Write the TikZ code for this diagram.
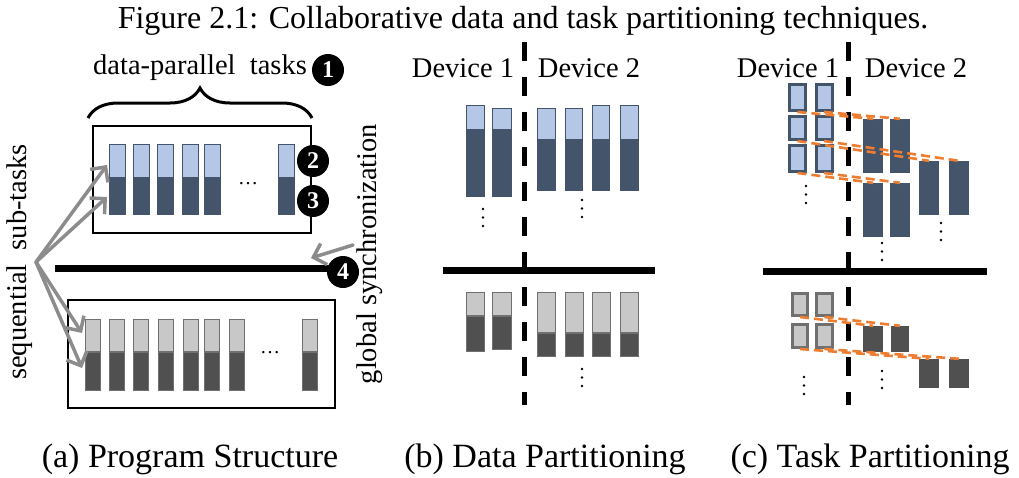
\documentclass[tikz,border=0pt]{standalone}
\usepackage{fontspec}
\setmainfont{Liberation Serif}
\usetikzlibrary{arrows.meta,decorations.pathreplacing}

\definecolor{taskblue}{HTML}{B4C7E7}
\definecolor{taskslate}{HTML}{44546A}
\definecolor{tasklgray}{HTML}{C8C8C8}
\definecolor{taskdgray}{HTML}{505050}
\definecolor{taskedge}{HTML}{707070}
\definecolor{pointergray}{HTML}{8C8C8C}
\definecolor{linkorange}{HTML}{ED7D31}

% split task bar: x-left, top, width, split, bottom, light fill, dark fill, edge colour
\newcommand{\splitbar}[8]{%
  \fill[#7] (#1,#4) rectangle (#1+#3,#5);
  \draw[#8, line width=1.4pt] (#1+0.7,#2+0.7) rectangle (#1+#3-0.7,#5-0.7);
  \filldraw[fill=#6, draw=#8, line width=1.4pt] (#1+0.7,#2+0.7) rectangle (#1+#3-0.7,#4);
}
% three stacked dots
\newcommand{\stackdots}[2]{%
  \foreach \k in {0,1,2} \fill (#1,#2+8.5*\k) circle (1.4pt);
}

\begin{document}
\begin{tikzpicture}[x=1pt,y=-1pt,
  lbl/.style={font=\fontsize{28.5}{30}\selectfont, inner sep=0pt},
  caption/.style={font=\fontsize{34}{38}\selectfont, inner sep=0pt},
  heading/.style={font=\fontsize{32}{36}\selectfont, inner sep=0pt},
  ellip/.style={font=\fontsize{20}{20}\selectfont, inner sep=0pt},
  badge/.style={circle, fill=black, text=white, inner sep=0pt, minimum size=32pt,
    font=\fontsize{24}{24}\selectfont\bfseries},
  frame/.style={draw=black, line width=2.5pt},
  syncline/.style={line width=7pt},
  devsplit/.style={line width=5pt, dash pattern=on 19pt off 16pt},
  pointer/.style={draw=pointergray, line width=3.5pt, line cap=round,
    -{Straight Barb[length=11pt,width=22pt]}},
  link/.style={draw=linkorange, line width=2.6pt, dash pattern=on 9pt off 5pt},
  bsq/.style={draw=taskslate, fill=taskblue, line width=3pt, inner sep=0pt},
  gsq/.style={draw=taskedge, fill=tasklgray, line width=3pt, inner sep=0pt},
  bblk/.style={fill=taskslate, inner sep=0pt},
  gblk/.style={fill=taskdgray, inner sep=0pt},
]
\useasboundingbox (0,0) rectangle (1019,477);

% heading and sub-figure captions
\node[heading] (title) at (523,21) {Figure 2.1: Collaborative data and task partitioning techniques.};
\node[caption] (capA) at (190,459) {(a) Program Structure};
\node[caption] (capB) at (545,459) {(b) Data Partitioning};
\node[caption] (capC) at (870,459) {(c) Task Partitioning};

%% ---------------- (a) program structure ----------------
\node[lbl] (dpt) at (200,68) {data-parallel\ \ tasks};
\node[badge] (n1) at (328,70) {1};
\draw[line width=3pt, decorate, decoration={brace, amplitude=30pt}] (88,118) -- (312,118);

\draw[frame] (93,126) rectangle (311,233);
\foreach \x in {109,133,157,182,204,278}
  \splitbar{\x}{144}{17}{178}{215}{taskblue}{taskslate}{taskslate};
\node[ellip] (ellA) at (248,184) {\dots};
\node[badge] (n2) at (313,161) {2};
\node[badge] (n3) at (313,201) {3};

\coordinate (syncAs) at (55,268);
\coordinate (syncAe) at (335,268);
\draw[syncline] (syncAs) -- (syncAe);
\node[badge] (n4) at (343,272) {4};

\draw[frame] (68,300) rectangle (335,408);
\foreach \x in {85,109,133,158,183,204,229,302}
  \splitbar{\x}{319}{16}{352}{391}{tasklgray}{taskdgray}{taskedge};
\node[ellip] (ellB) at (270,353) {\dots};

\node[lbl, rotate=90] (seq) at (20,262) {sequential\ \ sub-tasks};
\node[lbl, rotate=90] (gsync) at (370,254) {global synchronization};

\coordinate (tgt1) at (107,165);
\coordinate (tgt2) at (107,197);
\coordinate (tgt3) at (82,333);
\coordinate (tgt4) at (82,368);
\coordinate (src) at (36,262);
\foreach \t in {tgt1,tgt2,tgt3,tgt4} \draw[pointer] (src) -- (\t);
\coordinate (gsrc) at (353,245);
\coordinate (gtgt) at (311,258);
\draw[pointer] (gsrc) -- (gtgt);

%% ---------------- (b) data partitioning ----------------
\node[lbl] (bdev1) at (463,68) {Device 1};
\node[lbl] (bdev2) at (589,68) {Device 2};
\coordinate (bsplitT) at (524,42);
\coordinate (bsplitB) at (524,405);
\draw[devsplit] (bsplitT) -- (bsplitB);
\coordinate (bsyncL) at (443,270);
\coordinate (bsyncR) at (655,270);
\draw[syncline] (bsyncL) -- (bsyncR);

\splitbar{466}{105}{19}{130}{197}{taskblue}{taskslate}{taskslate};
\splitbar{492}{108}{20}{130}{197}{taskblue}{taskslate}{taskslate};
\splitbar{537}{108}{19}{140}{191}{taskblue}{taskslate}{taskslate};
\splitbar{565}{108}{18}{140}{191}{taskblue}{taskslate}{taskslate};
\splitbar{592}{105}{18}{140}{191}{taskblue}{taskslate}{taskslate};
\splitbar{620}{105}{19}{140}{191}{taskblue}{taskslate}{taskslate};
\stackdots{483}{209}
\stackdots{582}{200}

\splitbar{466}{292}{19}{316}{352}{tasklgray}{taskdgray}{taskedge};
\splitbar{492}{292}{20}{316}{350}{tasklgray}{taskdgray}{taskedge};
\foreach \x in {537,565,592,620}
  \splitbar{\x}{292}{19}{333}{357}{tasklgray}{taskdgray}{taskedge};
\stackdots{582}{369}

%% ---------------- (c) task partitioning ----------------
\node[lbl] (cdev1) at (788,68) {Device 1};
\node[lbl] (cdev2) at (916,68) {Device 2};
\coordinate (csplitT) at (848,42);
\coordinate (csplitB) at (848,405);
\draw[devsplit] (csplitT) -- (csplitB);
\coordinate (csyncL) at (763,271);
\coordinate (csyncR) at (987,271);
\draw[syncline] (csyncL) -- (csyncR);

% device 1: light sub-tasks of the upper phase
\node[bsq, minimum width=16pt, minimum height=26pt] (u11) at (797.5,97.5) {};
\node[bsq, minimum width=16pt, minimum height=26pt] (u12) at (824,97.5) {};
\node[bsq, minimum width=16pt, minimum height=23pt] (u21) at (797.5,128) {};
\node[bsq, minimum width=16pt, minimum height=23pt] (u22) at (824,128) {};
\node[bsq, minimum width=16pt, minimum height=26pt] (u31) at (797.5,158.5) {};
\node[bsq, minimum width=16pt, minimum height=26pt] (u32) at (824,158.5) {};
% device 2: dark sub-tasks of the upper phase
\node[bblk, minimum width=20pt, minimum height=54pt] (ua1) at (873,146) {};
\node[bblk, minimum width=20pt, minimum height=54pt] (ua2) at (900,146) {};
\node[bblk, minimum width=20pt, minimum height=54pt] (ub1) at (873,210) {};
\node[bblk, minimum width=20pt, minimum height=54pt] (ub2) at (900,210) {};
\node[bblk, minimum width=20pt, minimum height=54pt] (uc1) at (929,188) {};
\node[bblk, minimum width=20pt, minimum height=54pt] (uc2) at (959,188) {};
\draw[link] (u11.south) -- (ua1.north);
\draw[link] (u12.south) -- (ua2.north);
\draw[link] (u21.south) -- (uc1.north);
\draw[link] (u22.south) -- (uc2.north);
\draw[link] (u31.south) -- (ub1.north);
\draw[link] (u32.south) -- (ub2.north);
\stackdots{806}{186}
\stackdots{941}{223}
\stackdots{882}{243}

% lower phase
\node[gsq, minimum width=15pt, minimum height=22pt] (l11) at (800,304.5) {};
\node[gsq, minimum width=16pt, minimum height=22pt] (l12) at (824.5,304.5) {};
\node[gsq, minimum width=15pt, minimum height=23pt] (l21) at (800,336) {};
\node[gsq, minimum width=16pt, minimum height=23pt] (l22) at (824.5,336) {};
\node[gblk, minimum width=20pt, minimum height=26pt] (la1) at (873,339) {};
\node[gblk, minimum width=18pt, minimum height=26pt] (la2) at (900,339) {};
\node[gblk, minimum width=20pt, minimum height=29pt] (lb1) at (929,373.5) {};
\node[gblk, minimum width=20pt, minimum height=29pt] (lb2) at (959,373.5) {};
\draw[link] (l11.south) -- (la1.north);
\draw[link] (l12.south) -- (la2.north);
\draw[link] (l21.south) -- (lb1.north);
\draw[link] (l22.south) -- (lb2.north);
\stackdots{804}{377}
\stackdots{882}{371}
\end{tikzpicture}
\end{document}
